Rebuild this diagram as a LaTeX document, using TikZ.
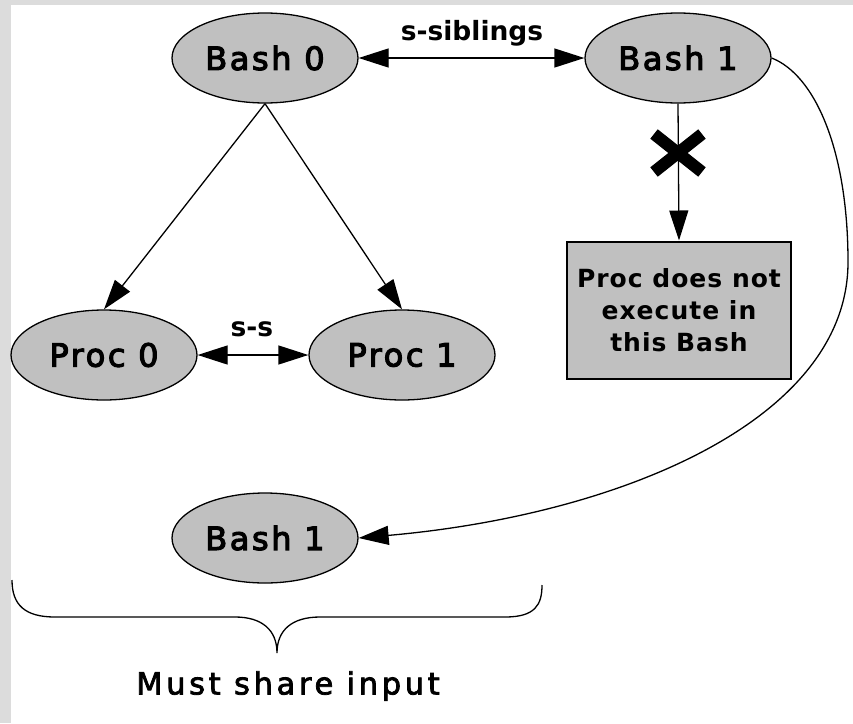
\documentclass[tikz,border=0pt]{standalone}
\usepackage{fontspec}
\setmainfont{DejaVu Sans}
\newfontfamily\nodefont{DejaVu Sans}[LetterSpace=8,FakeBold=3.5]
\newfontfamily\bracefont{DejaVu Sans}[LetterSpace=12,FakeBold=2.5]
\newfontfamily\boxfont{DejaVu Sans Bold}[LetterSpace=4]
\usetikzlibrary{shapes.geometric,arrows.meta}
\definecolor{nodegray}{RGB}{192,192,192}
\definecolor{framegray}{RGB}{220,220,220}
\begin{document}
\begin{tikzpicture}[x=1pt,y=-1pt,
  ell/.style={ellipse, draw=black, line width=1.3pt, fill=nodegray,
    minimum width=186pt, minimum height=90pt, inner sep=0pt,
    font=\nodefont\fontsize{32}{38}\selectfont},
  conn/.style={line width=1.3pt, -{Triangle[length=30pt,width=19pt]}},
  biconn/.style={line width=1.3pt,
    {Triangle[length=30pt,width=19pt]}-{Triangle[length=30pt,width=19pt]}},
  edgelabel/.style={font=\fontsize{26.5}{30}\selectfont\bfseries, inner sep=0pt},
  notebox/.style={rectangle, draw=black, line width=2pt, fill=nodegray,
    minimum width=224pt, minimum height=137pt, inner sep=0pt, align=center,
    font=\boxfont\fontsize{25}{32}\selectfont}]
\useasboundingbox (0,0) rectangle (853,723);
% frame strips along the top and left edges
\fill[framegray] (0,0) rectangle (853,5);
\fill[framegray] (0,0) rectangle (11,723);

% processes and shells
\node[ell] (b0) at (265,58) {Bash 0};
\node[ell] (b1) at (678,58) {Bash 1};
\node[ell] (p0) at (104,355) {Proc 0};
\node[ell] (p1) at (402,355) {Proc 1};
\node[ell] (b1low) at (265,538) {Bash 1};
\node[notebox] (nox) at (679,310) {Proc does not\\execute in\\this Bash};

% sibling relations
\draw[biconn] (b0.east) -- (b1.west);
\node[edgelabel] (sib) at (472,33) {s-siblings};
\draw[biconn] (p0.east) -- (p1.west);
\node[edgelabel] (ss) at (252,329) {s-s};

% children of Bash 0
\draw[conn] (b0.south) -- (p0.north);
\draw[conn] (b0.south) -- (p1.north);

% blocked execution in Bash 1
\draw[conn] (b1.south) -- (nox.north);
\draw[line width=12pt] (654,134) -- (702,172) (702,134) -- (654,172);

% Bash 1 seen again below
\coordinate (bend) at (848,262);
\draw[conn] (b1.east) .. controls (815,75) and (848,150) .. (bend)
  .. controls (848,420) and (620,515) .. (b1low.east);

% brace under the shared-input group
\draw[line width=1.3pt] (12,580) .. controls (12,605) and (25,617) .. (55,617)
  -- (235,617) .. controls (262,617) and (277,630) .. (277,653)
  .. controls (277,630) and (292,617) .. (320,617)
  -- (505,617) .. controls (535,617) and (542,605) .. (542,585);
\node[inner sep=0pt, font=\bracefont\fontsize{30.5}{36}\selectfont] (share) at (288,686) {Must share input};
\end{tikzpicture}
\end{document}
